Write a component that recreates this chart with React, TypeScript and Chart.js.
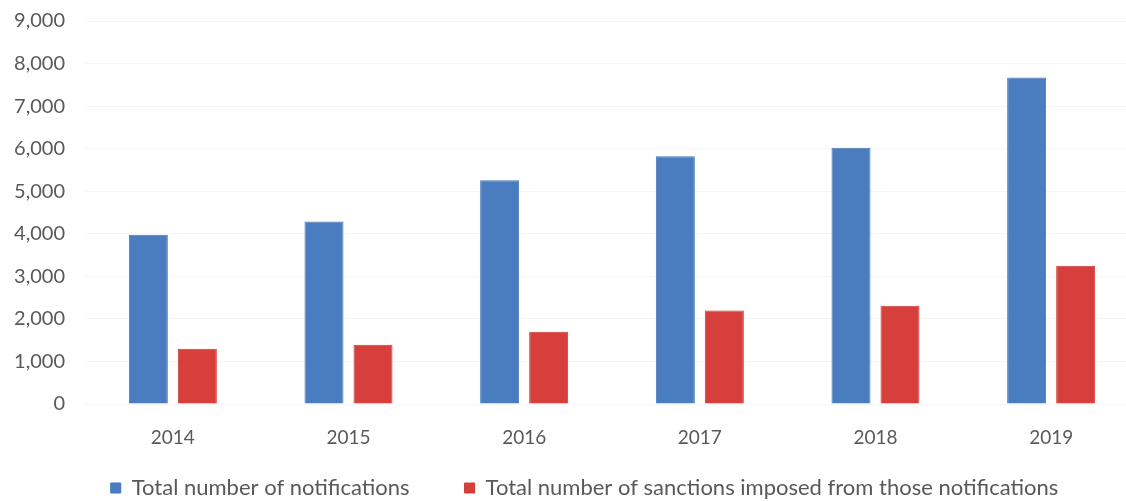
import React, { useEffect, useRef } from "react";
import { Chart, registerables } from "chart.js";

Chart.register(...registerables);

const years = ["2014", "2015", "2016", "2017", "2018", "2019"];
const notifications = [3980, 4290, 5260, 5820, 6020, 7670];
const sanctions = [1300, 1390, 1700, 2200, 2310, 3250];
const seriesLabels = [
  "Total number of notifications",
  "Total number of sanctions imposed from those notifications",
];
const yMax = 9000;
const yStep = 1000;

const legendShift = {
  id: "legendShift",
  afterLayout(chart: any) {
    const lg = chart.legend;
    if (!lg) return;
    const dy = chart.chartArea.bottom + 18 - lg.top;
    lg.top += dy;
    lg.bottom += dy;
    lg.left += 30;
  },
};

export default function App() {
  const ref = useRef<HTMLCanvasElement | null>(null);

  useEffect(() => {
    document.body.style.margin = "0";
    document.body.style.overflow = "hidden";
    const ctx = ref.current!;
    const font = "Lato, 'Open Sans', sans-serif";
    const chart = new Chart(ctx, {
      type: "bar",
      data: {
        labels: years,
        datasets: [
          {
            label: seriesLabels[0],
            data: notifications,
            backgroundColor: "#4a7dbf",
            borderColor: "#4476b6",
            borderWidth: 1,
            categoryPercentage: 0.558,
            barPercentage: 0.796,
          },
          {
            label: seriesLabels[1],
            data: sanctions,
            backgroundColor: "#d63f3b",
            borderColor: "#cf3a36",
            borderWidth: 1,
            categoryPercentage: 0.558,
            barPercentage: 0.796,
          },
        ],
      },
      plugins: [legendShift],
      options: {
        animation: false,
        responsive: false,
        layout: { padding: { left: 0, right: 6, top: 21, bottom: 2 } },
        plugins: {
          tooltip: { enabled: false },
          legend: {
            position: "bottom",
            labels: {
              boxWidth: 10,
              boxHeight: 10,
              padding: 55,
              color: "#595959",
              font: { family: font, size: 22 },
            },
          },
        },
        scales: {
          x: {
            grid: { display: false, drawTicks: false },
            border: { display: false },
            ticks: {
              color: "#595959",
              padding: 22,
              font: { family: font, size: 19 },
            },
            afterFit: (s: any) => {
              s.height = 47;
            },
          },
          y: {
            min: 0,
            max: yMax,
            grid: { color: "#f5f5f5", drawTicks: false },
            border: { display: false },
            ticks: {
              stepSize: yStep,
              color: "#595959",
              padding: 20,
              font: { family: font, size: 20 },
              callback: (v: any) => Number(v).toLocaleString("en-US"),
            },
            afterFit: (s: any) => {
              s.width = 85;
              s.paddingTop = 0;
              s.paddingBottom = 0;
            },
          },
        },
      },
    });
    return () => chart.destroy();
  }, []);

  return (
    <div style={{ position: "absolute", left: 0, top: 0, width: 1126, height: 501, overflow: "hidden", background: "#fff" }}>
      <canvas ref={ref} width={1145} height={540} style={{ display: "block" }} />
    </div>
  );
}
